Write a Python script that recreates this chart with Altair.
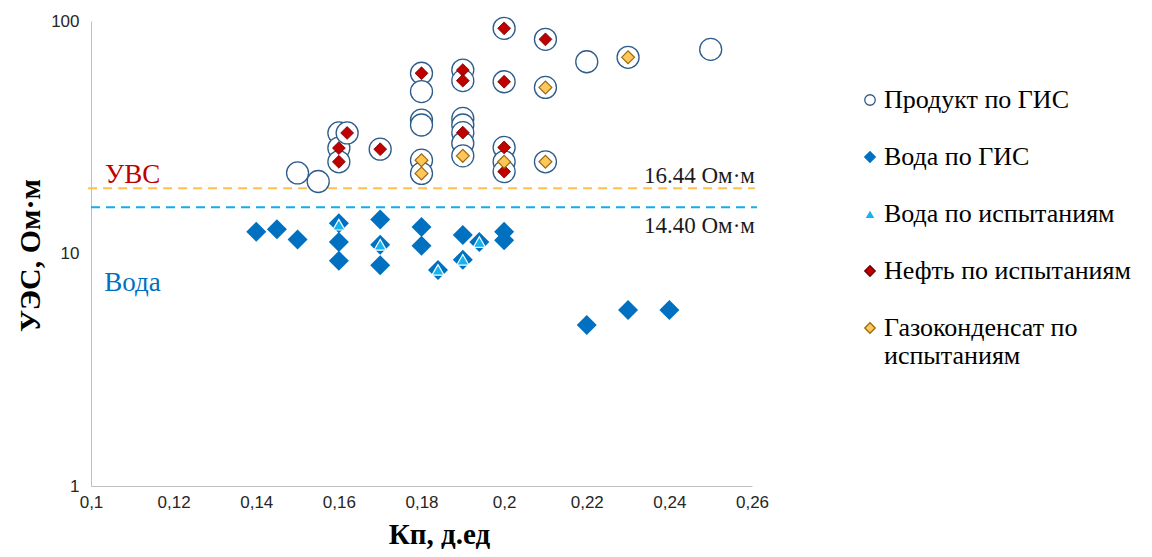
import altair as alt
import pandas as pd

# ---- data ----
series = ["Продукт по ГИС", "Вода по ГИС", "Вода по испытаниям",
          "Нефть по испытаниям", "Газоконденсат по испытаниям"]

prod_x = [0.15, 0.155, 0.16, 0.16, 0.16, 0.162, 0.17, 0.18, 0.18, 0.18, 0.18, 0.18, 0.18,
          0.19, 0.19, 0.19, 0.19, 0.19, 0.19, 0.19, 0.20, 0.20, 0.20, 0.20, 0.20,
          0.21, 0.21, 0.21, 0.22, 0.23, 0.25]
prod_y = [22.2, 20.4, 33.0, 28.4, 24.8, 33.0, 28.1, 59.6, 49.7, 37.5, 35.7, 25.2, 22.1,
          61.5, 55.4, 38.1, 35.7, 33.1, 29.8, 26.3, 93.0, 54.8, 28.6, 24.8, 22.5,
          83.4, 51.8, 24.8, 66.8, 69.8, 75.5]

wgis_x = [0.14, 0.145, 0.15, 0.16, 0.16, 0.16, 0.17, 0.17, 0.17, 0.18, 0.18, 0.184,
          0.19, 0.19, 0.194, 0.20, 0.20, 0.22, 0.23, 0.24]
wgis_y = [12.4, 12.7, 11.5, 13.5, 11.2, 9.3, 14.0, 10.9, 8.9, 13.0, 10.8, 8.5,
          12.0, 9.4, 11.2, 12.4, 11.4, 4.92, 5.71, 5.71]

wtest_x = [0.16, 0.17, 0.184, 0.19, 0.194]
wtest_y = [13.3, 10.9, 8.5, 9.4, 11.2]

oil_x = [0.162, 0.16, 0.16, 0.17, 0.18, 0.19, 0.19, 0.19, 0.20, 0.20, 0.20, 0.20, 0.21]
oil_y = [33.0, 28.4, 24.8, 28.1, 59.6, 61.5, 55.4, 33.1, 93.0, 54.8, 28.6, 22.5, 83.4]

gas_x = [0.18, 0.18, 0.19, 0.20, 0.21, 0.21, 0.23]
gas_y = [25.2, 22.1, 26.3, 24.8, 51.8, 24.8, 69.8]

# threshold lines (positions as drawn) and their labels
thr_names = ["УВС", "Вода"]
thr_y = [19.1, 15.8]
thr_x0 = [0.0993, 0.1]
thr_x1 = [0.2607, 0.2612]
thr_labels = ["16.44 Ом·м", "14.40 Ом·м"]
thr_label_y = [21.6, 13.1]

zone_labels = ["УВС", "Вода"]
zone_x = [0.1034, 0.1032]
zone_y = [21.8, 7.45]

x_ticks = [0.1, 0.12, 0.14, 0.16, 0.18, 0.2, 0.22, 0.24, 0.26]
y_ticks = [1, 10, 100]

# ---- styles ----
fills = ["#ffffff", "#0070C0", "#14B4F0", "#C00000", "#FFC75A"]
strokes = ["#2E5C8A", "#0070C0", "#ffffff", "#6B0000", "#9A6A0A"]
shapes = ["circle", "diamond", "triangle-up", "diamond", "diamond"]
sizes = [484, 400, 150, 165, 165]
stroke_widths = [1.3, 0, 1.2, 0.8, 1.2]
thr_colors = ["#FFC04D", "#12ADEB"]
zone_colors = ["#C00000", "#0070C0"]

serif = "Liberation Serif"
legend_font = "Liberation Serif, Times New Roman, serif"
sans = "Liberation Sans"

xs = alt.Scale(domain=[0.1, 0.26], nice=False, zero=False)
ys = alt.Scale(type="log", domain=[1, 100], nice=False)

x_axis = alt.Axis(values=x_ticks, title="Кп, д.ед", grid=False, ticks=False,
                  domainColor="#BFBFBF", domainWidth=1, labelFlush=False,
                  labelExpr="replace(format(datum.value, '~g'), '.', ',')",
                  labelFont=sans, labelFontSize=17, labelColor="#262626", labelPadding=8,
                  titleFont=serif, titleFontSize=29, titleFontWeight="bold",
                  titleColor="#000000", titleX=348, titleY=57,
                  titleBaseline="alphabetic")
y_axis = alt.Axis(values=y_ticks, title="УЭС, Ом·м", grid=False, ticks=False,
                  domainColor="#BFBFBF", domainWidth=1, format="~g", labelFlush=False,
                  labelFont=sans, labelFontSize=17, labelColor="#262626", labelPadding=12,
                  titleFont=serif, titleFontSize=30, titleFontWeight="bold",
                  titleColor="#000000", titleX=-46, titleY=234)

X = alt.X("x:Q", scale=xs, axis=x_axis)
Y = alt.Y("y:Q", scale=ys, axis=y_axis)

legend = alt.Legend(title=None, orient="none", legendX=766, legendY=66,
                    labelFont=legend_font, labelFontSize=26, labelColor="#000000",
                    labelExpr="datum.label == 'Газоконденсат по испытаниям' ? "
                              "['Газоконденсат по', 'испытаниям'] : datum.label")

fill_enc = alt.Fill("series:N", scale=alt.Scale(domain=series, range=fills), legend=legend)
stroke_enc = alt.Stroke("series:N", scale=alt.Scale(domain=series, range=strokes), legend=legend)
shape_enc = alt.Shape("series:N", scale=alt.Scale(domain=series, range=shapes), legend=legend)

all_x = [prod_x, wgis_x, wtest_x, oil_x, gas_x]
all_y = [prod_y, wgis_y, wtest_y, oil_y, gas_y]

layers = []
for i, name in enumerate(series):
    df = pd.DataFrame({"x": all_x[i], "y": all_y[i], "series": name})
    layers.append(
        alt.Chart(df).mark_point(filled=True, opacity=1, size=sizes[i],
                                 strokeWidth=stroke_widths[i])
        .encode(x=X, y=Y, fill=fill_enc, stroke=stroke_enc, shape=shape_enc)
    )

thr_df = pd.DataFrame({"name": thr_names, "x": thr_x0, "x2": thr_x1, "y": thr_y,
                       "color": thr_colors})
rules = alt.Chart(thr_df).mark_rule(strokeDash=[9, 6], strokeWidth=2, clip=False).encode(
    x=X, x2="x2:Q", y=Y, color=alt.Color("color:N", scale=None, legend=None)
)

thr_text_df = pd.DataFrame({"x": [0.2607, 0.2607], "y": thr_label_y, "t": thr_labels})
thr_text = alt.Chart(thr_text_df).mark_text(align="right", baseline="middle", font=serif,
                                            fontSize=23, color="#1a1a1a").encode(
    x=X, y=Y, text="t:N")

zone_df = pd.DataFrame({"x": zone_x, "y": zone_y, "t": zone_labels, "color": zone_colors})
zone_text = alt.Chart(zone_df).mark_text(align="left", baseline="middle", font=serif,
                                         fontSize=27).encode(
    x=X, y=Y, text="t:N", color=alt.Color("color:N", scale=None, legend=None))

chart = alt.layer(rules, thr_text, zone_text, *layers).properties(
    width=661, height=465,
    autosize=alt.AutoSizeParams(type="none"),
    padding={"left": 83, "top": 13, "right": 390, "bottom": 63},
).configure(
    background="#ffffff",
    font=serif,
    view=alt.ViewConfig(stroke=None),
    style={"guide-label": {"font": legend_font}},
    legend=alt.LegendConfig(labelFont=legend_font, labelFontSize=26, labelColor="#000000",
                            symbolSize=110, symbolStrokeWidth=1.3, rowPadding=31,
                            labelOffset=1, labelLimit=400, padding=0),
)

chart.save("out.html", embed_options={"renderer": "svg", "actions": False})
